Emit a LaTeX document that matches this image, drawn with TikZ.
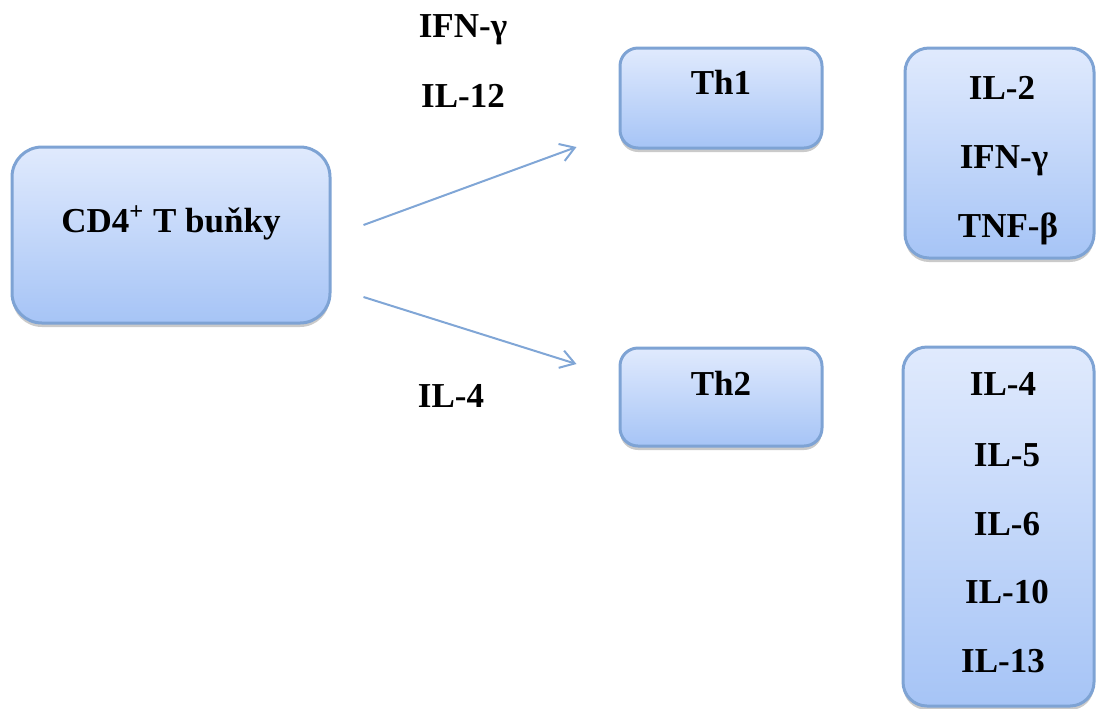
\documentclass[tikz,border=0pt]{standalone}
\usepackage{fontspec}
\setmainfont{Liberation Serif}
\usetikzlibrary{arrows.meta,shadows}
\definecolor{boxtop}{RGB}{224,234,253}
\definecolor{boxbottom}{RGB}{166,196,246}
\definecolor{boxborder}{RGB}{126,163,212}
\definecolor{arrowblue}{RGB}{128,166,214}
\newcommand*{\cyto}{\fontsize{17.5}{21}\selectfont\bfseries}

\begin{document}
\begin{tikzpicture}[x=0.5pt, y=-0.5pt,
block_cell/.style ={rectangle, draw=boxborder, line width=1.5pt, top color=boxtop, bottom color=boxbottom, inner sep=0pt, font=\cyto, text centered, drop shadow={shadow xshift=0pt, shadow yshift=-2pt, opacity=0.35, fill=black!60}},
block_main/.style ={block_cell, rounded corners=15pt, minimum width=159pt},
block_th/.style ={block_cell, rounded corners=9pt, minimum width=101pt},
block_list/.style ={block_cell, rounded corners=12pt},
label_text/.style ={font=\cyto, inner sep=0pt, anchor=base},
line/.style ={draw=arrowblue, line width=1pt, -{Straight Barb[length=7pt,width=9pt]}}]
  \useasboundingbox (0,0) rectangle (1096,708);
  % naive T cell
  \node [block_main, text height=42.5pt, text depth=45.5pt] (cd4) at (171,235) {CD4\textsuperscript{+} T buňky};
  % helper subsets
  \node [block_th, text height=23pt, text depth=27pt] (th1) at (721,98) {Th1};
  \node [block_th, text height=23.5pt, text depth=25.5pt] (th2) at (721,397) {Th2};
  % cytokine boxes
  \node [block_list, minimum width=94.5pt, minimum height=105pt] (th1_cyto) at (999.5,153) {};
  \node [block_list, minimum width=95.5pt, minimum height=179.5pt] (th2_cyto) at (998.5,526.5) {};
  % polarizing cytokines
  \node [label_text] (lbl_ifng) at (463,37) {IFN-γ};
  \node [label_text] (lbl_il12) at (463,107) {IL-12};
  \node [label_text] (lbl_il4) at (451,407) {IL-4};
  % Th1 products
  \node [label_text] (th1_il2) at (1002,99) {IL-2};
  \node [label_text] (th1_ifng) at (1004,168) {IFN-γ};
  \node [label_text] (th1_tnfb) at (1008,237) {TNF-β};
  % Th2 products
  \node [label_text] (th2_il4) at (1003,395) {IL-4};
  \node [label_text] (th2_il5) at (1007,466) {IL-5};
  \node [label_text] (th2_il6) at (1007,535) {IL-6};
  \node [label_text] (th2_il10) at (1007,603) {IL-10};
  \node [label_text] (th2_il13) at (1003,672) {IL-13};
  % differentiation arrows
  \begin{scope}[every path/.style=line]
    \path ([shift={(32,-10)}]cd4.east) -- ([shift={(-42,49)}]th1.west);
    \path ([shift={(32,62)}]cd4.east) -- ([shift={(-42,-33)}]th2.west);
  \end{scope}
\end{tikzpicture}
\end{document}
